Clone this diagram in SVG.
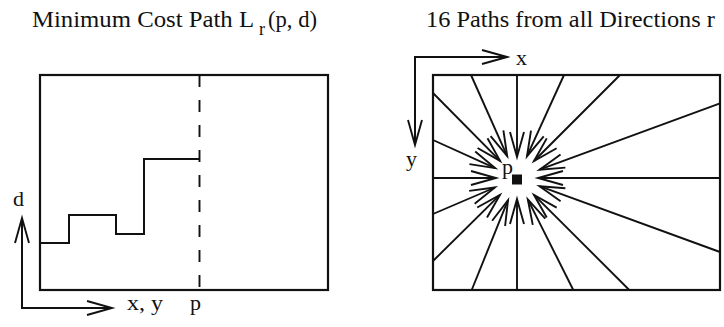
<svg xmlns="http://www.w3.org/2000/svg" width="724" height="327" viewBox="0 0 724 327">
<style>
.t{font-size:24px}
.l{font-size:22px}
.frame{fill:none;stroke:#111;stroke-width:2.2}
.ln{fill:none;stroke:#111;stroke-width:2}
.ray{fill:none;stroke:#111;stroke-width:1.9;marker-end:url(#ah)}
.ax{fill:none;stroke:#111;stroke-width:2;marker-end:url(#ah)}
</style>
<defs>
<marker id="ah" markerUnits="userSpaceOnUse" viewBox="-28 -9 30 18" markerWidth="30" markerHeight="18" refX="0" refY="0" orient="auto" overflow="visible">
<path d="M-25,-7 L0,0 L-25,7" fill="none" stroke="#111" stroke-width="1.9"/>
</marker>
</defs>
<rect width="724" height="327" fill="#fff"/>
<g id="title-left" font-family="'Liberation Serif', 'Times New Roman', serif" fill="#111">
<text class="t" x="32" y="27" textLength="222" lengthAdjust="spacingAndGlyphs">Minimum Cost Path L</text>
<text x="259" y="35" font-size="18">r</text>
<text class="t" x="268" y="27" textLength="49" lengthAdjust="spacingAndGlyphs">(p, d)</text>
</g>
<g id="title-right" font-family="'Liberation Serif', 'Times New Roman', serif" fill="#111">
<text class="t" x="426" y="27" textLength="289" lengthAdjust="spacingAndGlyphs">16 Paths from all Directions r</text>
</g>
<g id="left-panel">
<rect class="frame" x="40" y="75" width="288" height="215"/>
<line x1="199.5" y1="75" x2="199.5" y2="290" stroke="#111" stroke-width="1.9" stroke-dasharray="12 13"/>
<polyline class="ln" points="40,243 69,243 69,215 116,215 116,234 144,234 144,159 200,159"/>
<g font-family="'Liberation Serif', 'Times New Roman', serif" fill="#111">
<text class="l" x="13" y="206">d</text>
<text class="l" x="127" y="310" textLength="36" lengthAdjust="spacingAndGlyphs">x, y</text>
<text class="l" x="190" y="310">p</text>
</g>
</g>
<g id="left-axes">
<polyline class="ax" points="22,218 22,308 112,308"/>
<line class="ax" x1="22" y1="308" x2="22" y2="218"/>
</g>
<g id="connectors">
<line class="ray" x1="471" y1="75" x2="507.2" y2="156.1"/>
<line class="ray" x1="517" y1="75" x2="517" y2="157"/>
<line class="ray" x1="564" y1="75" x2="527" y2="156.2"/>
<line class="ray" x1="620" y1="75" x2="534" y2="161"/>
<line class="ray" x1="433" y1="93" x2="500.1" y2="160.9"/>
<line class="ray" x1="433" y1="140" x2="495.1" y2="168.1"/>
<line class="ray" x1="433" y1="178" x2="496" y2="178"/>
<line class="ray" x1="433" y1="214" x2="494.9" y2="187.5"/>
<line class="ray" x1="433" y1="261" x2="499.9" y2="194.9"/>
<line class="ray" x1="471.7" y1="290" x2="508" y2="200.2"/>
<line class="ray" x1="517" y1="290" x2="517" y2="199"/>
<line class="ray" x1="573.3" y1="290" x2="527.8" y2="199.4"/>
<line class="ray" x1="629.3" y1="290" x2="534" y2="194.9"/>
<line class="ray" x1="720" y1="103.3" x2="539.5" y2="169.7"/>
<line class="ray" x1="720" y1="178" x2="538" y2="178"/>
<line class="ray" x1="720" y1="252" x2="539.5" y2="186.2"/>
</g>
<g id="right-panel">
<rect class="frame" x="433" y="75" width="287" height="215"/>
<rect x="512" y="174.5" width="10" height="10" fill="#111"/>
<g font-family="'Liberation Serif', 'Times New Roman', serif" fill="#111">
<text class="l" x="502" y="174">p</text>
<text class="l" x="516" y="65">x</text>
<text class="l" x="406" y="166">y</text>
</g>
</g>
<g id="right-axes">
<polyline class="ax" points="415,145 415,57 507,57"/>
<line class="ax" x1="415" y1="57" x2="415" y2="145"/>
</g>
</svg>
